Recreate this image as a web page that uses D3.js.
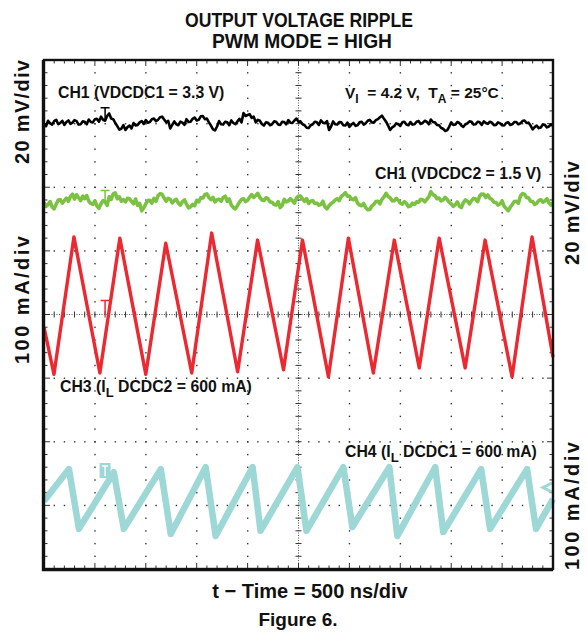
<!DOCTYPE html>
<html>
  <head>
    <meta charset="utf-8" />
    <style>
      body { margin: 0; background: #fff; }
      svg text { font-family: "Liberation Sans", Arial, sans-serif; font-weight: bold; fill: #111; white-space: pre; }
    </style>
  </head>
  <body>
    <svg width="587" height="636"></svg>
    <script src="https://cdnjs.cloudflare.com/ajax/libs/d3/7.8.5/d3.min.js"></script>
    <script>
      // time base: 500 ns/div over 10 divisions
      var timeTicks = [0, 500, 1000, 1500, 2000, 2500, 3000, 3500, 4000, 4500, 5000];
      // vertical divisions of the screen
      var divTicks = [-4, -3, -2, -1, 0, 1, 2, 3, 4];

      // CH1 / CH2 ripple, mV around the dc level, one sample every 20 ns
      var sampleStep = 20;
      var ch1Ripple = [
        0, -0.8, 0.9, 0.1, -0.3, 0.8, 1.2, -0.2, 0.2, 0.9,
        -0.4, 0.5, 1.0, -0.1, 0.3, 1.1, 0.8, -0.3, -0.2, 0.7,
        0.6, -0.2, 1.3, 0.5, 0.4, 1.4, 1.5, 0.6, 2.2, 1.2,
        0.9, 2.4, 3.2, 1.6, 1.4, 0.2, -0.8, -1.9, -1.6, -0.5,
        -2.0, -1.1, -0.6, -1.5, 0.2, -0.6, -0.4, 0.4, 0.8, -0.1,
        1.1, 0.3, 0.5, 1.4, 1.6, 0.8, 1.2, 2.0, 2.2, 1.3,
        0.4, 0.9, -1.5, -0.4, 0.7, -0.2, -0.5, 0.6, 0.3, -0.4,
        1.4, 0.5, 0.6, 1.5, 1.9, 1.0, 1.2, 2.3, 2.4, 1.4,
        1.6, 0.4, -0.6, -1.8, -2.1, -0.9, 0.8, -0.2, -0.3, 0.6,
        0.4, -0.5, 1.0, 0.2, -0.2, 0.7, 1.5, 0.4, 3.3, 2.4,
        2.7, 3.0, 1.8, 2.2, 0.4, 1.2, 0.9, -0.1, -0.6, 0.4,
        0.3, -0.5, -0.2, 0.7, 0.6, -0.3, -0.4, 0.6, 0.5, -0.2,
        1.1, 0.3, 0.2, 1.0, 1.6, 0.6, 0.7, -0.2, -0.5, -1.3,
        -1.4, -0.5, -0.2, 0.6, 0.4, -0.4, 1.0, 0.3, 0.1, 0.8,
        -2.0, -0.9, 0.7, -0.2, -0.3, 0.5, 0.4, -0.5, -0.6, 0.3,
        -1.0, -0.3, 0.2, -0.7, -0.5, 0.4, 0.6, -0.3, 0.1, 0.9,
        1.2, 0.4, 0.3, 1.1, 1.4, 2.0, 2.5, 1.5, 0.6, -0.6,
        -2.0, -1.2, -0.8, 0.1, -0.2, -0.7, 0.4, 0.6, -0.3, -0.5,
        0.5, -0.3, -0.2, 0.6, 0.8, -0.1, 0.2, 0.9, 0.6, -0.2,
        1.3, 0.5, 0.4, -0.4, -0.5, -1.3, -1.6, -2.3, -2.1, -1.0,
        0.4, -0.4, -0.3, 0.5, 0.2, -0.6, -1.0, -0.2, 0.1, 0.7,
        0.6, -0.3, -0.2, 0.6, 0.4, -0.4, 0.7, 0.2, -0.1, 0.6,
        0.3, -0.5, -0.4, 0.4, 0.1, -0.5, -0.6, 0.2, 0.4, -0.4,
        -0.2, 0.5, 0.5, -0.2, 0.1, 0.8, 1.0, 0.2, 0.3, -0.6,
        -1.8, -1.1, -0.6, -1.4, -1.2, -0.3, -0.4, -1.2, -0.9, -0.2,
        -0.7
      ];
      var ch2Ripple = [
        0, -1.2, -0.6, 0.3, -1.4, -2.0, -0.5, 0.8, 0.9, -0.2,
        0.6, 1.4, 0.4, 1.9, 2.6, 1.1, 2.4, 1.5, 0.6, 2.0,
        1.2, 2.2, 0.4, -0.3, -0.6, 0.5, -1.1, -1.8, -0.4, 0.6,
        0.2, -0.9, 1.8, 1.0, 2.7, 3.0, 1.2, 1.8, 0.4, 0.9,
        0.2, 1.3, 1.2, 0.3, -0.4, 1.1, -0.9, -0.3, -2.6, -1.7,
        -0.4, 0.6, 0.7, -0.2, 1.3, 0.4, 2.1, 2.8, 2.6, 1.4,
        0.4, 1.3, 1.0, -0.1, 0.6, 1.0, -0.2, -0.8, 0.3, 0.8,
        -0.5, -1.7, -1.4, -0.6, -1.0, 0.7, 0.2, 1.5, 1.4, 2.5,
        2.7, 1.6, 0.9, 1.6, 0.2, 0.9, 1.0, 0.4, 1.6, 2.0,
        0.4, 1.1, -0.8, -1.6, -2.0, -1.0, 0.1, 0.9, 1.2, 0.3,
        0.7, 1.7, 2.5, 1.6, 2.2, 2.9, 1.6, 0.8, 0.6, 1.5,
        1.2, 0.2, 0.1, -0.6, -0.8, 0.3, -1.6, -0.9, 1.0, 0.2,
        0.5, 1.2, 0.6, -0.2, 1.4, 2.0, 2.0, 1.1, 0.4, 1.2,
        -0.3, 0.4, 0.6, -0.3, -0.2, -0.8, -0.6, 0.4, -1.4, -2.0,
        -1.0, -0.3, 0.1, 0.8, 1.2, 0.6, 1.9, 2.4, 3.1, 2.0,
        2.0, 1.1, 0.9, 1.5, -0.2, -0.8, -1.0, -0.3, -1.6, -2.3,
        -2.2, -1.1, -0.6, 0.3, 0.4, -0.4, 1.0, 1.8, 2.9, 1.9,
        1.5, 0.6, 0.5, 1.3, 0.7, -0.2, -0.5, 0.3, -0.3, -1.3,
        -1.1, -0.2, -0.6, 0.2, 0.1, 1.0, 0.9, 0.2, 1.0, 1.8,
        3.4, 2.5, 2.2, 1.2, 1.4, 0.5, 0.8, 1.6, 1.0, 0.1,
        -0.4, -1.2, -0.7, 0.2, -1.1, -1.6, 0.0, 0.8, 0.4, -0.4,
        0.6, 1.3, 1.1, 0.3, 2.1, 2.7, 2.6, 1.6, 2.4, 1.3,
        1.0, 0.1, 0.0, -0.8, -0.4, 0.5, -1.2, -1.9, -2.6, -1.5,
        -0.6, 0.3, 0.4, -0.2, 2.0, 2.8, 2.6, 1.6, 1.4, 0.4,
        0.3, -0.6, -0.2, 0.6, 0.9, 0.1, 0.5, 1.2, -0.1, -0.8,
        -0.1
      ];

      // CH3 inductor current DCDC2 (triangle), ns / mA
      var ch3Time = [0, 98, 294, 549, 745, 1000, 1196, 1451, 1647, 1902, 2098, 2353,
        2539, 2794, 2990, 3235, 3441, 3686, 3882, 4137, 4333, 4598, 4794, 5000];
      var ch3Current = [580, 506, 722, 508, 720, 506, 712, 508, 728, 510, 717, 513,
        717, 502, 720, 508, 717, 516, 720, 516, 717, 502, 722, 533];

      // CH4 inductor current DCDC1 (sawtooth), ns / mA
      var ch4Time = [0, 245, 343, 686, 784, 1147, 1245, 1588, 1686, 2049, 2127, 2490,
        2578, 2941, 3029, 3392, 3471, 3843, 3922, 4294, 4382, 4745, 4833, 5000];
      var ch4Current = [597, 647, 553, 642, 553, 647, 545, 650, 542, 650, 550, 650,
        550, 650, 556, 650, 542, 650, 548, 647, 553, 647, 553, 600];

      var svg = d3.select("svg");
      var plotLeft = 44, plotRight = 553, plotTop = 60, plotBottom = 569;

      var x = d3.scaleLinear().domain([0, 5000]).range([plotLeft, plotRight]);
      var y = d3.scaleLinear().domain([-4, 4]).range([plotBottom, plotTop]);

      // ---- graticule ----
      var grid = svg.append("g");
      var xMinor = d3.range(0, 5001, 100);
      var yMinor = d3.range(-40, 41, 2).map(function(d) { return d / 10; });

      timeTicks.slice(1, -1).forEach(function(t) {
        if (t === 2500) return;
        grid.selectAll(null).data(yMinor).enter().append("rect")
          .attr("x", x(t) - 0.6).attr("y", function(d) { return y(d) - 0.6; })
          .attr("width", 1.4).attr("height", 1.4).attr("fill", "#333");
      });
      divTicks.slice(1, -1).forEach(function(v) {
        if (v === 0) return;
        grid.selectAll(null).data(xMinor).enter().append("rect")
          .attr("x", function(d) { return x(d) - 0.6; }).attr("y", y(v) - 0.6)
          .attr("width", 1.4).attr("height", 1.4).attr("fill", "#333");
      });

      // centre cross
      grid.append("line").attr("x1", plotLeft).attr("x2", plotRight).attr("y1", y(0)).attr("y2", y(0))
        .attr("stroke", "#555").attr("stroke-dasharray", "1,1.5");
      grid.append("line").attr("x1", x(2500)).attr("x2", x(2500)).attr("y1", plotTop).attr("y2", plotBottom)
        .attr("stroke", "#555").attr("stroke-dasharray", "1,1.5");
      grid.selectAll(null).data(xMinor).enter().append("line")
        .attr("x1", function(d) { return x(d); }).attr("x2", function(d) { return x(d); })
        .attr("y1", y(0) - 3).attr("y2", y(0) + 3).attr("stroke", "#333");
      grid.selectAll(null).data(yMinor).enter().append("line")
        .attr("y1", function(d) { return y(d); }).attr("y2", function(d) { return y(d); })
        .attr("x1", x(2500) - 3).attr("x2", x(2500) + 3).attr("stroke", "#333");

      // edge ticks
      [plotTop, plotBottom].forEach(function(edge, i) {
        var dir = i === 0 ? 1 : -1;
        grid.selectAll(null).data(xMinor).enter().append("line")
          .attr("x1", function(d) { return x(d); }).attr("x2", function(d) { return x(d); })
          .attr("y1", edge).attr("y2", function(d) { return edge + dir * (d % 500 === 0 ? 6 : 3.5); })
          .attr("stroke", "#333");
      });
      [plotLeft, plotRight].forEach(function(edge, i) {
        var dir = i === 0 ? 1 : -1;
        grid.selectAll(null).data(yMinor).enter().append("line")
          .attr("y1", function(d) { return y(d); }).attr("y2", function(d) { return y(d); })
          .attr("x1", edge).attr("x2", function(d) { return edge + dir * (Math.abs(d % 1) < 0.01 ? 6 : 3.5); })
          .attr("stroke", "#333");
      });

      // ---- traces ----
      // each channel: screen position (div) of its reference value, and units per div
      var channels = [
        { pts: ch1Ripple.map(function(v, i) { return [i * sampleStep, v]; }), pos: 3.0, ref: 0, perDiv: 20, color: "#000", width: 2.6 },
        { pts: ch2Ripple.map(function(v, i) { return [i * sampleStep, v]; }), pos: 1.76, ref: 0, perDiv: 20, color: "#7cc242", width: 3.6 },
        { pts: ch3Time.map(function(t, i) { return [t, ch3Current[i]]; }), pos: 0, ref: 600, perDiv: 100, color: "#ec2830", width: 3.4 },
        { pts: ch4Time.map(function(t, i) { return [t, ch4Current[i]]; }), pos: -2.9, ref: 600, perDiv: 100, color: "#9dd7d6", width: 6.5 }
      ];

      var traces = svg.append("g");
      channels.forEach(function(ch) {
        var line = d3.line()
          .x(function(d) { return x(d[0]); })
          .y(function(d) { return y(ch.pos + (d[1] - ch.ref) / ch.perDiv); });
        traces.append("path").datum(ch.pts).attr("d", line)
          .attr("fill", "none").attr("stroke", ch.color)
          .attr("stroke-width", ch.width).attr("stroke-linejoin", "round");
      });

      // trigger "T" markers
      var trigX = x(600);
      function tMark(yTop, len, color) {
        traces.append("path")
          .attr("d", "M" + (trigX - 4.5) + "," + yTop + "H" + (trigX + 4.5) + "M" + trigX + "," + yTop + "V" + (yTop + len))
          .attr("stroke", color).attr("stroke-width", 1.5).attr("fill", "none");
      }
      tMark(y(3.0) - 16, 12, "#000");
      tMark(y(1.76) - 12, 10, "#7cc242");
      tMark(y(0) - 14, 14, "#ec2830");
      traces.append("rect").attr("x", trigX - 5.5).attr("y", 463).attr("width", 11).attr("height", 15).attr("fill", "#9dd7d6");
      traces.append("path").attr("d", "M" + (trigX - 3) + ",466H" + (trigX + 3) + "M" + trigX + ",466V476")
        .attr("stroke", "#fff").attr("stroke-width", 1.4);
      traces.append("path").attr("d", "M552,483L543,487.5L552,492")
        .attr("stroke", "#9dd7d6").attr("stroke-width", 3).attr("fill", "none");

      // frame (left and bottom edges heavier, as in the scope print)
      svg.append("rect").attr("x", plotLeft).attr("y", plotTop).attr("width", plotRight - plotLeft).attr("height", plotBottom - plotTop)
        .attr("fill", "none").attr("stroke", "#111").attr("stroke-width", 2.4);
      svg.append("path").attr("d", "M" + (plotLeft - 1) + "," + plotTop + "V" + (plotBottom + 1) + "H" + plotRight)
        .attr("fill", "none").attr("stroke", "#111").attr("stroke-width", 2.4);

      // ---- text ----
      function label(txt, px, py, size, anchor) {
        return svg.append("text").attr("x", px).attr("y", py).attr("font-size", size)
          .attr("text-anchor", anchor || "start").text(txt);
      }
      label("OUTPUT VOLTAGE RIPPLE", 299, 27, 20, "middle").attr("textLength", 228).attr("lengthAdjust", "spacingAndGlyphs");
      label("PWM MODE = HIGH", 302, 48, 20, "middle").attr("textLength", 180).attr("lengthAdjust", "spacingAndGlyphs");
      label("t \u2212 Time = 500 ns/div", 310, 598, 20, "middle");
      label("Figure 6.", 298, 626, 19, "middle");

      function vLabel(txt, px, py, len) {
        svg.append("text").attr("transform", "translate(" + px + "," + py + ") rotate(-90)")
          .attr("font-size", 20).attr("text-anchor", "middle")
          .attr("textLength", len).attr("lengthAdjust", "spacing").text(txt);
      }
      vLabel("20 mV/div", 29, 112, 104);
      vLabel("100 mA/div", 29, 300, 128);
      vLabel("20 mV/div", 579, 213, 104);
      vLabel("100 mA/div", 579, 506, 128);

      label("CH1 (VDCDC1 = 3.3 V)", 58, 98, 15.8);
      label("CH1 (VDCDC2 = 1.5 V)", 375, 179, 15.8);

      var vi = label("V", 345, 98, 15.5);
      vi.append("tspan").attr("dy", 5).attr("font-size", 12).text("I");
      vi.append("tspan").attr("dy", -5).text("  = 4.2 V,  T");
      vi.append("tspan").attr("dy", 5).attr("font-size", 12).text("A");
      vi.append("tspan").attr("dy", -5).text(" = 25\u00b0C");

      var c3 = label("CH3 (I", 60, 392, 15.8);
      c3.append("tspan").attr("dy", 5).attr("font-size", 13).text("L");
      c3.append("tspan").attr("dy", -5).text(" DCDC2 = 600 mA)");

      var c4 = label("CH4 (I", 345, 457, 15.8);
      c4.append("tspan").attr("dy", 5).attr("font-size", 13).text("L");
      c4.append("tspan").attr("dy", -5).text(" DCDC1 = 600 mA)");
    </script>
  </body>
</html>
